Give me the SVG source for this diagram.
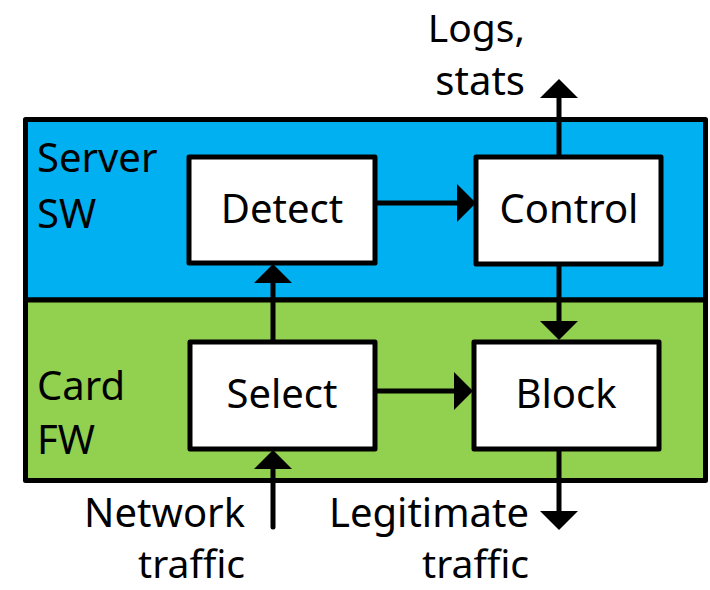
<svg xmlns="http://www.w3.org/2000/svg" width="710" height="590" viewBox="0 0 710 590">
  <style>
    .lbl { font-family: "Noto Sans", "Open Sans", sans-serif; font-size: 40px; fill: #000; }
    .edge { font-size: 39px; }
    .mid { text-anchor: middle; }
    .end { text-anchor: end; }
    .box { fill: #fff; stroke: #000; stroke-width: 5; stroke-linejoin: round; }
    .wire { stroke: #000; stroke-width: 5; fill: none; }
  </style>
  <defs>
    <marker id="arrow" viewBox="0 0 19 38" markerUnits="userSpaceOnUse" markerWidth="19" markerHeight="38" refX="0" refY="19" orient="auto">
      <path d="M0,0 L19,19 L0,38 Z" fill="#000"/>
    </marker>
  </defs>

  <!-- host layers -->
  <g id="server-sw">
    <rect x="25.5" y="119.5" width="680" height="180.5" fill="#00B0F0" stroke="#000" stroke-width="5" stroke-linejoin="round"/>
    <text class="lbl" x="37" y="172">Server</text>
    <text class="lbl" x="37" y="228">SW</text>
  </g>
  <g id="card-fw">
    <rect x="25.5" y="300" width="680" height="180.5" fill="#92D050" stroke="#000" stroke-width="5" stroke-linejoin="round"/>
    <text class="lbl" x="37" y="400">Card</text>
    <text class="lbl" x="37" y="454">FW</text>
  </g>

  <!-- connectors -->
  <g id="connectors">
    <line class="wire" x1="375" y1="203" x2="457" y2="203" marker-end="url(#arrow)"/>
    <line class="wire" x1="559" y1="157" x2="559" y2="98" marker-end="url(#arrow)"/>
    <line class="wire" x1="559" y1="264" x2="559" y2="321" marker-end="url(#arrow)"/>
    <line class="wire" x1="273" y1="342" x2="273" y2="283" marker-end="url(#arrow)"/>
    <line class="wire" x1="375" y1="391" x2="454" y2="391" marker-end="url(#arrow)"/>
    <line class="wire" x1="273" y1="527" x2="273" y2="469" stroke-linecap="round" marker-end="url(#arrow)"/>
    <line class="wire" x1="559" y1="449" x2="559" y2="511" marker-end="url(#arrow)"/>
  </g>

  <!-- blocks -->
  <g id="detect">
    <rect class="box" x="189" y="157" width="186" height="106"/>
    <text class="lbl mid" x="282" y="223">Detect</text>
  </g>
  <g id="control">
    <rect class="box" x="476" y="157" width="185" height="107"/>
    <text class="lbl mid" x="569" y="223">Control</text>
  </g>
  <g id="select">
    <rect class="box" x="190" y="342" width="185" height="107"/>
    <text class="lbl mid" x="282" y="408">Select</text>
  </g>
  <g id="block">
    <rect class="box" x="474" y="342" width="185" height="107"/>
    <text class="lbl mid" x="566" y="408">Block</text>
  </g>

  <!-- external endpoints -->
  <g id="logs-stats">
    <text class="lbl edge end" x="525" y="42">Logs,</text>
    <text class="lbl end" x="525" y="95">stats</text>
  </g>
  <g id="network-traffic">
    <text class="lbl end" x="245" y="527">Network</text>
    <text class="lbl edge end" x="245" y="578">traffic</text>
  </g>
  <g id="legitimate-traffic">
    <text class="lbl end" x="529" y="527">Legitimate</text>
    <text class="lbl edge end" x="529" y="578">traffic</text>
  </g>
</svg>
